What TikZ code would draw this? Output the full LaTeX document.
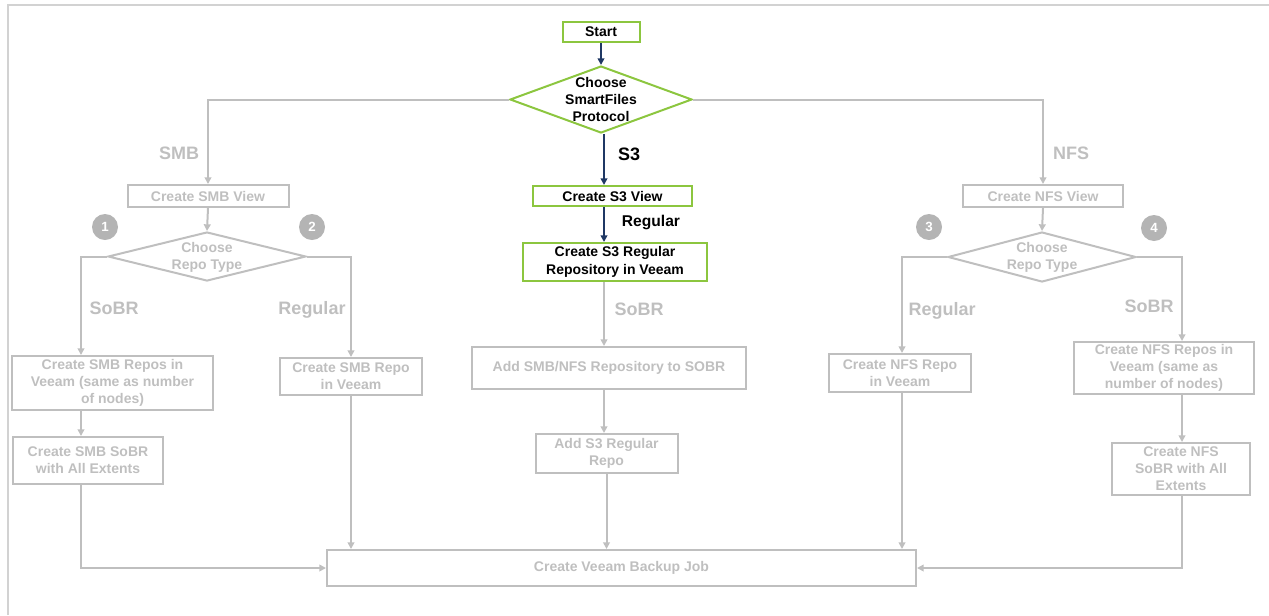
\documentclass[tikz,border=0pt]{standalone}
\usepackage{fontspec}
\setmainfont{Liberation Sans}
\usetikzlibrary{shapes.geometric,arrows.meta,calc}
\definecolor{lg}{RGB}{191,191,191}
\definecolor{gr}{RGB}{140,198,63}
\definecolor{nv}{RGB}{31,56,100}
\definecolor{fr}{RGB}{210,210,210}
\definecolor{cg}{RGB}{180,180,180}
\begin{document}
\begin{tikzpicture}[x=0.75pt,y=-0.75pt,
 font=\fontsize{10.5}{12.75}\selectfont\bfseries,
 sz/.style 2 args={minimum width=#1*0.75pt, minimum height=#2*0.75pt},
 gbox/.style={rectangle, draw=lg, line width=1.5pt, text=lg, align=center, inner sep=0pt},
 kbox/.style={rectangle, draw=gr, line width=1.5pt, text=black, align=center, inner sep=0pt},
 gdia/.style={diamond, draw=lg, line width=1.5pt, inner sep=0pt},
 kdia/.style={diamond, draw=gr, line width=1.5pt, inner sep=0pt},
 gline/.style={draw=lg, line width=1.5pt},
 garr/.style={gline, -{Triangle[length=5pt,width=5pt]}},
 narr/.style={draw=nv, line width=1.5pt, -{Triangle[length=5pt,width=5pt]}},
 glab/.style={text=lg, font=\fontsize{13.5}{16}\selectfont\bfseries},
 klab/.style={text=black, font=\fontsize{13.5}{16}\selectfont\bfseries},
 num/.style={circle, fill=cg, text=white, minimum size=19.5pt, inner sep=0pt, font=\fontsize{10}{12}\selectfont\bfseries},
 frame/.style={draw=fr, line width=2pt},
]
\useasboundingbox (0,0) rectangle (1269,615);
% frame
\draw[frame] (8,615) -- (8,5) -- (1269,5);

% column coordinates
\coordinate (cx) at (604,0);
\coordinate (sx) at (81,0);
\coordinate (nx) at (902,0);
\coordinate (fx) at (1182,0);

% central column
\node[kbox, sz={77}{20}] (start) at (601,32) {Start};
\node[kdia, sz={182}{67}] (proto) at (601,99.5) {};
\node[align=center, font=\fontsize{10.5}{13}\selectfont\bfseries] (protot) at (601,99.5) {Choose\\SmartFiles\\Protocol};
\node[kbox, sz={159}{20}] (s3view) at (612.5,196) {Create S3 View};
\node[kbox, sz={184}{38}, font=\fontsize{10.5}{13.5}\selectfont\bfseries] (s3repo) at (615,262) {Create S3 Regular\\Repository in Veeam};
\node[gbox, sz={274}{42}] (addsobr) at (609,368) {Add SMB/NFS Repository to SOBR};
\node[gbox, sz={142}{39}] (adds3) at (606.5,453.5) {Add S3 Regular\\Repo};
\node[gbox, sz={589}{36}] (backup) at (621.5,568) {Create Veeam Backup Job};

% SMB side
\node[gbox, sz={161}{22}] (smbview) at (208,196) {Create SMB View};
\node[gdia, sz={198}{49}] (smbdia) at (207,256.5) {};
\node[text=lg, align=center] (smbdiat) at (207,257) {Choose\\Repo Type};
\node[gbox, sz={201}{54}] (smbrepos) at (112.5,383) {Create SMB Repos in\\Veeam (same as number\\of nodes)};
\node[gbox, sz={150}{47}] (smbsobr) at (88,460.5) {Create SMB SoBR\\with All Extents};
\node[gbox, sz={142}{37}] (smbrepo) at (351,376.5) {Create SMB Repo\\in Veeam};
\node[num] (c1) at (105,227) {1};
\node[num] (c2) at (312,227) {2};

% NFS side
\node[gbox, sz={160}{22}] (nfsview) at (1043,196) {Create NFS View};
\node[gdia, sz={188}{50}] (nfsdia) at (1042,257) {};
\node[text=lg, align=center] (nfsdiat) at (1042,257) {Choose\\Repo Type};
\node[gbox, sz={142}{38}] (nfsrepo) at (900,373) {Create NFS Repo\\in Veeam};
\node[gbox, sz={180}{52}] (nfsrepos) at (1164,368) {Create NFS Repos in\\Veeam (same as\\number of nodes)};
\node[gbox, sz={138}{52}] (nfssobr) at (1181,469) {Create NFS\\SoBR with All\\Extents};
\node[num] (c3) at (929,227) {3};
\node[num] (c4) at (1154,228) {4};

% labels
\node[glab] (lsmb) at (179,153) {SMB};
\node[glab] (lnfs) at (1071,153) {NFS};
\node[klab] (ls3) at (629,154) {S3};
\node[text=black, font=\fontsize{11.7}{14}\selectfont\bfseries] (lreg) at (651,222) {Regular};
\node[glab] (lsobr) at (639,309) {SoBR};
\node[glab] (lsobr1) at (114,308) {SoBR};
\node[glab] (lreg2) at (312,310) {Regular};
\node[glab] (lreg3) at (942,311) {Regular};
\node[glab] (lsobr4) at (1149,306) {SoBR};

% connectors: central
\draw[narr] (start.south) -- (proto.north);
\draw[narr] (cx |- proto.south) -- (cx |- s3view.north);
\draw[narr] (cx |- s3view.south) -- (cx |- s3repo.north);
\draw[garr] (cx |- s3repo.south) -- (cx |- addsobr.north);
\draw[garr] (cx |- addsobr.south) -- (cx |- adds3.north);
\draw[garr] (adds3.south) -- (adds3.south |- backup.north);

% SMB
\draw[garr] (proto.west) -| (smbview.north);
\draw[garr] (smbview.south) -- (smbdia.north);
\draw[garr] (smbdia.west) -| (sx |- smbrepos.north);
\draw[garr] (sx |- smbrepos.south) -- (sx |- smbsobr.north);
\draw[garr] (sx |- smbsobr.south) |- (backup.west);
\draw[garr] (smbdia.east) -| (smbrepo.north);
\draw[garr] (smbrepo.south) -- (smbrepo.south |- backup.north);

% NFS
\draw[garr] (proto.east) -| (nfsview.north);
\draw[garr] (nfsview.south) -- (nfsdia.north);
\draw[garr] (nfsdia.west) -| (nx |- nfsrepo.north);
\draw[garr] (nx |- nfsrepo.south) -- (nx |- backup.north);
\draw[garr] (nfsdia.east) -| (fx |- nfsrepos.north);
\draw[garr] (fx |- nfsrepos.south) -- (fx |- nfssobr.north);
\draw[garr] (fx |- nfssobr.south) |- (backup.east);
\end{tikzpicture}
\end{document}
